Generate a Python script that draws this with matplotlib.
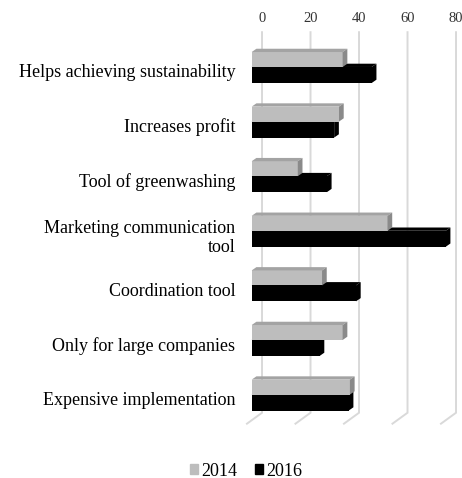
import matplotlib
matplotlib.use("Agg")
import matplotlib.pyplot as plt
import matplotlib.patches as mpatches
from matplotlib.patches import Polygon

plt.rcParams['font.family'] = ['Liberation Serif', 'DejaVu Serif']

# Survey answers (share of respondents, %)
categories = ["Helps achieving sustainability", "Increases profit", "Tool of greenwashing",
              "Marketing communication\ntool", "Coordination tool", "Only for large companies",
              "Expensive implementation"]
values_2014 = [37.5, 36, 19, 56, 29, 37.5, 40.5]
values_2016 = [49.5, 34, 31, 80, 43, 28, 40]
x_ticks = [0, 20, 40, 60, 80]
series_labels = ["2014", "2016"]

# Pseudo-3D projection settings (data units)
BAR_DX, BAR_DY = 1.94, -0.06        # depth of each bar
WALL_DX = 4.25                      # back wall offset from bar plane
FLOOR_DX, FLOOR_DY = -6.2, 0.2      # floor front edge offset from wall
WALL_TOP, WALL_BOTTOM = -0.61, 6.36

# Figure geometry in pixels
W, H = 462, 478
PX_UNIT, PX_ROW = 2.425, 54.6
ORIGIN_X, ROW0_Y = 251.7, 65.5
XMIN, XMAX = -5, 86
YMIN, YMAX = -0.7, 6.75

fig = plt.figure(figsize=(W / 100, H / 100), dpi=100)
left_px = ORIGIN_X + XMIN * PX_UNIT
right_px = ORIGIN_X + XMAX * PX_UNIT
top_px = ROW0_Y + YMIN * PX_ROW
bot_px = ROW0_Y + YMAX * PX_ROW
ax = fig.add_axes([left_px / W, 1 - bot_px / H, (right_px - left_px) / W, (bot_px - top_px) / H])
ax.set_xlim(XMIN, XMAX)
ax.set_ylim(YMAX, YMIN)
for s in ax.spines.values():
    s.set_visible(False)

# Back wall gridlines and floor edge
for t in x_ticks:
    xw = t + WALL_DX
    ax.plot([xw, xw, xw + FLOOR_DX], [WALL_TOP, WALL_BOTTOM, WALL_BOTTOM + FLOOR_DY],
            color='#d9d9d9', lw=1.4, zorder=1, clip_on=False, solid_joinstyle='miter')


def draw_bar(y_top, y_bot, value, front, top, side, z):
    ax.add_patch(Polygon([(0, y_top), (value, y_top), (value, y_bot), (0, y_bot)],
                         closed=True, fc=front, ec='none', zorder=z))
    ax.add_patch(Polygon([(0, y_top), (value, y_top), (value + BAR_DX, y_top + BAR_DY),
                          (BAR_DX, y_top + BAR_DY)], closed=True, fc=top, ec='none', zorder=z))
    ax.add_patch(Polygon([(value, y_top), (value, y_bot), (value + BAR_DX, y_bot + BAR_DY),
                          (value + BAR_DX, y_top + BAR_DY)], closed=True, fc=side, ec='none', zorder=z))


for i, (v14, v16) in enumerate(zip(values_2014, values_2016)):
    draw_bar(i + 0.027, i + 0.32, v16, 'black', 'black', 'black', 2)
    draw_bar(i - 0.247, i + 0.027, v14, '#bdbdbd', '#a3a3a3', '#8a8a8a', 3)

ax.set_xticks([t + WALL_DX for t in x_ticks], labels=[str(t) for t in x_ticks])
ax.xaxis.tick_top()
ax.tick_params(axis='x', length=0, pad=1.5, labelsize=10.5, colors='#333333')
ax.set_yticks([i + 0.1 for i in range(len(categories))], labels=categories)
ax.tick_params(axis='y', length=0, pad=3, labelsize=13, colors='black')

handles = [mpatches.Patch(color='#bdbdbd', label=series_labels[0]),
           mpatches.Patch(color='black', label=series_labels[1])]
fig.legend(handles=handles, loc='center', bbox_to_anchor=(246 / W, 1 - 471 / H), ncol=2,
           frameon=False, handlelength=0.45, handleheight=0.45, handletextpad=0.15,
           columnspacing=1.0, fontsize=13)

fig.savefig('out.png', dpi=100)
